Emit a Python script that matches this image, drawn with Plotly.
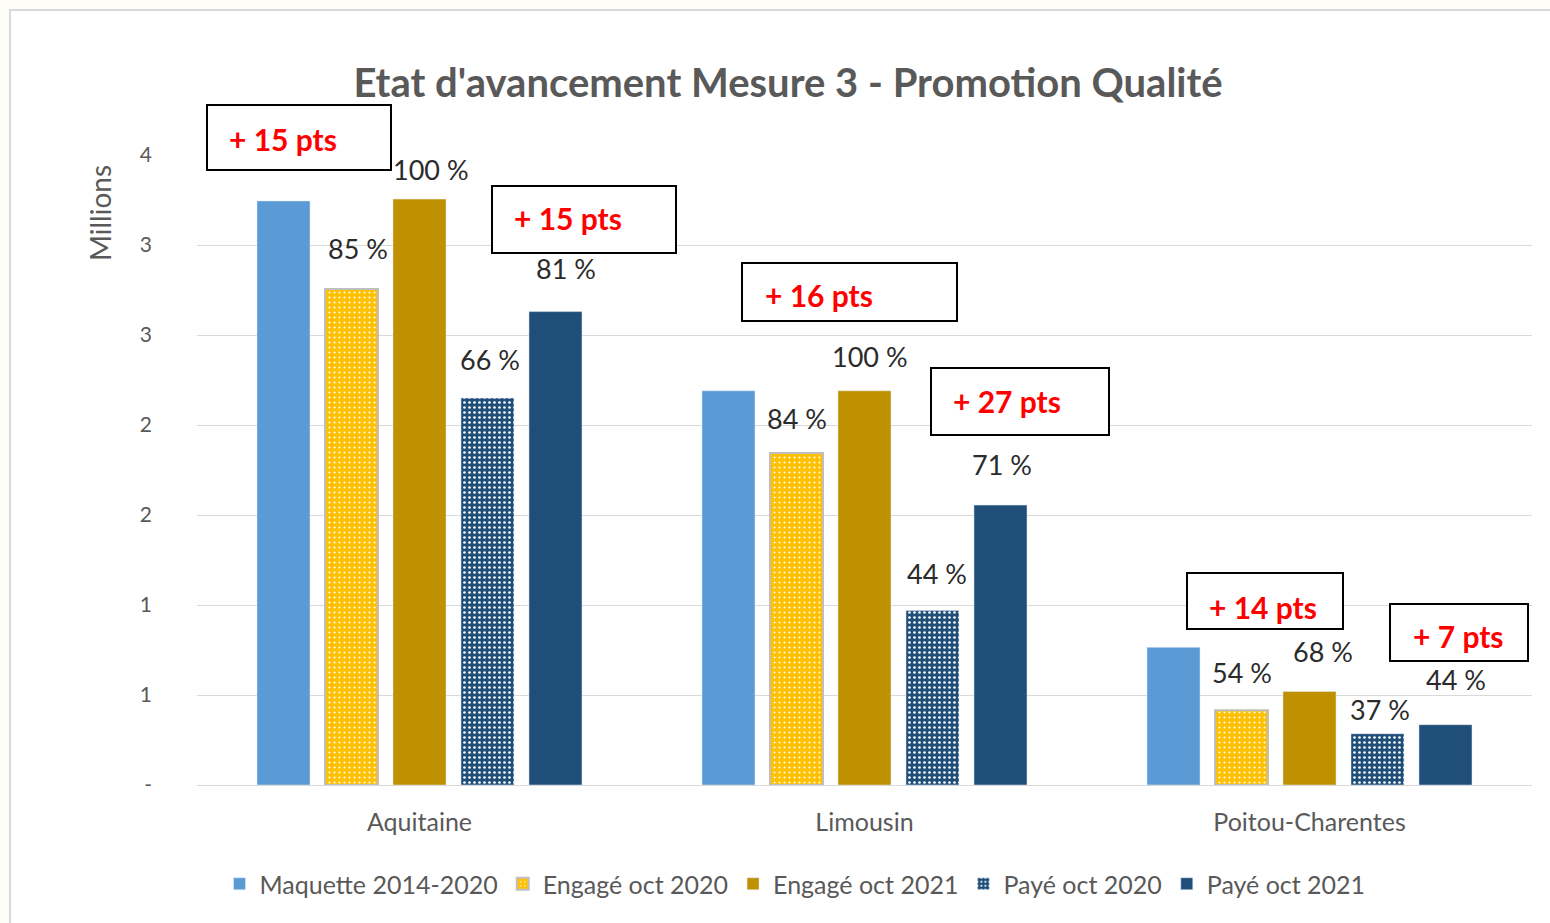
import plotly.graph_objects as go

# ---- data (millions of euros) ----
regions = ["Aquitaine", "Limousin", "Poitou-Charentes"]
series_names = ["Maquette 2014-2020", "Engagé oct 2020", "Engagé oct 2021", "Payé oct 2020", "Payé oct 2021"]
maquette = [3.245, 2.19, 0.765]
engage_2020 = [2.755, 1.845, 0.415]
engage_2021 = [3.255, 2.19, 0.52]
paye_2020 = [2.15, 0.97, 0.285]
paye_2021 = [2.63, 1.555, 0.335]

pct_engage_2020 = [85, 84, 54]
pct_engage_2021 = [100, 100, 68]
pct_paye_2020 = [66, 44, 37]
pct_paye_2021 = [81, 71, 44]

y_tickvals = [0, 0.5, 1, 1.5, 2, 2.5, 3, 3.5]
y_ticktext = ["-", "1", "1", "2", "2", "3", "3", "4"]

# ---- layout constants ----
W, H = 1550, 923
L, R, T, B = 197, 18, 155, 138
PW, PH = W - L - R, H - T - B
FONT = "Lato"
GREY = "#595959"
BARGAP = 0.236

# manual label nudges (pixels) as in the source chart, per labelled series
label_xshift = [[6, 0, 0], [11, 5, 13], [2, 4, 2], [11, 2, 11]]
label_yshift = [[41, 34, 38], [30, 34, 40], [39, 37, 24], [43, 41, 45]]

def fx(px):
    return (px - L) / PW

def fy(py):
    return (H - B - py) / PH

fig = go.Figure()

styles = [
    dict(color="#5B9BD5"),
    dict(color="#FFC000", line=dict(color="#BFBFBF", width=2),
         pattern=dict(shape=".", fgcolor="white", bgcolor="#FFC000", size=5, solidity=0.13, fillmode="replace")),
    dict(color="#BF9000"),
    dict(color="#1F4E79",
         pattern=dict(shape=".", fgcolor="white", bgcolor="#1F4E79", size=5, solidity=0.22, fillmode="replace")),
    dict(color="#1F4E79"),
]
values = [maquette, engage_2020, engage_2021, paye_2020, paye_2021]
for name, vals, st in zip(series_names, values, styles):
    fig.add_trace(go.Bar(x=regions, y=vals, name=name, marker=st))

annotations = []
shapes = []

# "+ pts" boxes (engagé and payé progressions)
diffs = []
for j in range(len(regions)):
    diffs.append(pct_engage_2021[j] - pct_engage_2020[j])
    diffs.append(pct_paye_2021[j] - pct_paye_2020[j])
boxes = [(207, 105, 391, 170), (492, 186, 676, 253), (742, 263, 957, 321),
         (931, 368, 1109, 435), (1187, 573, 1343, 629), (1390, 604, 1528, 661)]
text_pos = [(283, 139), (568, 218), (819, 295), (1007, 401), (1263, 607), (1458, 636)]
for d, (x0, y0, x1, y1), (tx, ty) in zip(diffs, boxes, text_pos):
    shapes.append(dict(type="rect", xref="paper", yref="paper",
                       x0=fx(x0), x1=fx(x1), y0=fy(y1), y1=fy(y0),
                       line=dict(color="black", width=2), fillcolor="white", layer="above"))
    annotations.append(dict(x=fx(tx), y=fy(ty), xref="paper", yref="paper",
                            xanchor="center", yanchor="middle",
                            text=f"<b>+ {d} pts</b>", showarrow=False,
                            font=dict(family=FONT, size=30, color="#FF0000")))

# percentage labels above bars
slot = (1 - BARGAP) / 5
pct_sets = [(1, engage_2020, pct_engage_2020), (2, engage_2021, pct_engage_2021),
            (3, paye_2020, pct_paye_2020), (4, paye_2021, pct_paye_2021)]
for k, (si, vals, pcts) in enumerate(pct_sets):
    for j in range(len(regions)):
        annotations.append(dict(
            x=j + (si - 2) * slot, y=vals[j], xref="x", yref="y",
            text=f"{pcts[j]} %", showarrow=False, xanchor="center", yanchor="middle",
            yshift=label_yshift[k][j], xshift=label_xshift[k][j],
            font=dict(family=FONT, size=27, color="#2B2B2B")))

# y-axis title
annotations.append(dict(x=fx(100), y=fy(213), xref="paper", yref="paper", text="Millions",
                        xanchor="center", yanchor="middle",
                        textangle=-90, showarrow=False, font=dict(family=FONT, size=28, color=GREY)))

# outer frame
shapes.append(dict(type="rect", xref="paper", yref="paper",
                   x0=fx(10), x1=fx(1570), y0=fy(940), y1=fy(10),
                   line=dict(color="#D9D9D9", width=2), fillcolor="white", layer="below"))

fig.update_layout(
    width=W, height=H,
    margin=dict(l=L, r=R, t=T, b=B, autoexpand=False),
    paper_bgcolor="#FFFDF7", plot_bgcolor="rgba(0,0,0,0)",
    barmode="group", bargap=BARGAP, bargroupgap=0.22,
    title=dict(text="<b>Etat d'avancement Mesure 3 - Promotion Qualité</b>",
               x=788 / W, y=1 - 83 / H, xref="container", yref="container",
               xanchor="center", yanchor="middle",
               font=dict(family=FONT, size=40, color=GREY)),
    font=dict(family=FONT, color=GREY),
    xaxis=dict(showgrid=False, tickfont=dict(family=FONT, size=25, color=GREY),
               ticks="", ticklabelstandoff=20, showline=False, fixedrange=True),
    yaxis=dict(range=[0, 3.5], tickvals=y_tickvals, ticktext=y_ticktext,
               showgrid=True, gridcolor="#D9D9D9", gridwidth=1,
               zeroline=True, zerolinecolor="#D9D9D9", zerolinewidth=1,
               tickfont=dict(family=FONT, size=21, color=GREY), ticklabelstandoff=44),
    legend=dict(orientation="h", x=fx(795), y=fy(884), xanchor="center", yanchor="middle",
                font=dict(family=FONT, size=25, color=GREY), bgcolor="rgba(0,0,0,0)",
                traceorder="normal"),
    annotations=annotations, shapes=shapes,
)

fig.write_html("out.html", config={"displayModeBar": False},
               post_script="document.body.style.margin='0';")
